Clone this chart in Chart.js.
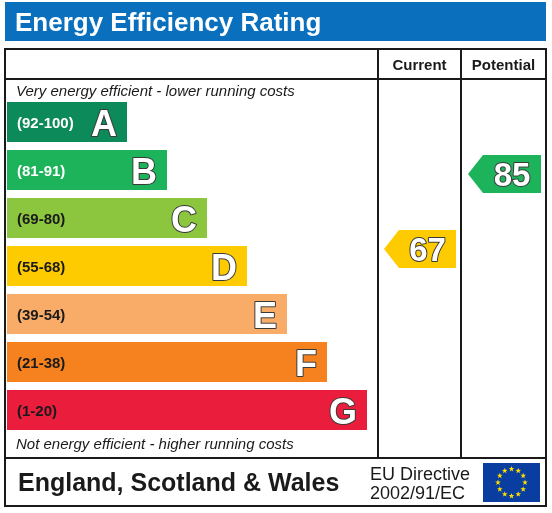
<!DOCTYPE html>
<html>
<head>
<meta charset="utf-8">
<script src="https://cdn.jsdelivr.net/npm/chart.js@4"></script>
<style>
  html, body { margin: 0; padding: 0; background: #fff; }
  canvas { display: block; }
</style>
</head>
<body>
<canvas id="epc" width="552" height="513"></canvas>
<script>
// chart data
const bands = ['A', 'B', 'C', 'D', 'E', 'F', 'G'];
const bandRanges = ['(92-100)', '(81-91)', '(69-80)', '(55-68)', '(39-54)', '(21-38)', '(1-20)'];
const bandLow = [92, 81, 69, 55, 39, 21, 1];
const bandHigh = [100, 91, 80, 68, 54, 38, 20];
const bandLength = [3, 4, 5, 6, 7, 8, 9];
const bandColors = ['#0c8a59', '#1db35b', '#8cc63f', '#fecb00', '#f9ac68', '#f5821f', '#ea1d3c'];
const rangeTextColors = ['#fff', '#fff', '#1a1a1a', '#1a1a1a', '#1a1a1a', '#1a1a1a', '#1a1a1a'];
const currentRating = 67;
const potentialRating = 85;

const FONT = '"Liberation Sans", Arial, sans-serif';

function bandIndex(r) {
    for (let i = 0; i < bands.length; i++) {
        if (r >= bandLow[i] && r <= bandHigh[i]) return i;
    }
    return bands.length - 1;
}

function outlinedText(ctx, text, x, y) {
    ctx.lineJoin = 'round';
    ctx.lineWidth = 2;
    ctx.strokeStyle = '#3a3a3a';
    ctx.strokeText(text, x, y);
    ctx.fillStyle = '#fff';
    ctx.fillText(text, x, y);
}

function drawArrow(chart, rating, left, right) {
    const ctx = chart.ctx;
    const i = bandIndex(rating);
    const bar = chart.getDatasetMeta(0).data[i];
    const top = bar.y - bar.height / 2;
    const frac = (bandHigh[i] - rating) / (bandHigh[i] - bandLow[i]);
    const yc = top + frac * bar.height;
    const h = 38;
    const nose = 15;
    ctx.fillStyle = bandColors[i];
    ctx.beginPath();
    ctx.moveTo(left, yc);
    ctx.lineTo(left + nose, yc - h / 2);
    ctx.lineTo(right, yc - h / 2);
    ctx.lineTo(right, yc + h / 2);
    ctx.lineTo(left + nose, yc + h / 2);
    ctx.closePath();
    ctx.fill();
    ctx.font = 'bold 33px ' + FONT;
    ctx.textAlign = 'center';
    ctx.textBaseline = 'alphabetic';
    outlinedText(ctx, String(rating), (left + nose + right) / 2, yc + 12);
}

function drawStar(ctx, cx, cy, r) {
    ctx.beginPath();
    for (let k = 0; k < 10; k++) {
        const a = -Math.PI / 2 + k * Math.PI / 5;
        const rr = k % 2 === 0 ? r : r * 0.4;
        ctx.lineTo(cx + rr * Math.cos(a), cy + rr * Math.sin(a));
    }
    ctx.closePath();
    ctx.fill();
}

const framePlugin = {
    id: 'frame',
    beforeDraw(chart) {
        const ctx = chart.ctx;
        ctx.save();
        ctx.fillStyle = '#fff';
        ctx.fillRect(0, 0, chart.width, chart.height);

        // title bar
        ctx.fillStyle = '#0a70bd';
        ctx.fillRect(5, 2, 541, 39);
        ctx.fillStyle = '#fff';
        ctx.font = 'bold 26px ' + FONT;
        ctx.textBaseline = 'alphabetic';
        ctx.fillText('Energy Efficiency Rating', 15, 31);

        // table
        ctx.strokeStyle = '#1a1a1a';
        ctx.lineWidth = 2;
        ctx.strokeRect(5, 49, 541, 457);
        ctx.beginPath();
        ctx.moveTo(5, 79); ctx.lineTo(546, 79);
        ctx.moveTo(5, 458); ctx.lineTo(546, 458);
        ctx.moveTo(378, 49); ctx.lineTo(378, 458);
        ctx.moveTo(461, 49); ctx.lineTo(461, 458);
        ctx.stroke();

        ctx.fillStyle = '#1a1a1a';
        ctx.font = 'bold 15px ' + FONT;
        ctx.textAlign = 'center';
        ctx.fillText('Current', 419.5, 69.5);
        ctx.fillText('Potential', 503.5, 69.5);

        ctx.textAlign = 'left';
        ctx.font = 'italic 15px ' + FONT;
        ctx.fillText('Very energy efficient - lower running costs', 16, 96);
        ctx.fillText('Not energy efficient - higher running costs', 16, 449);

        // footer
        ctx.font = 'bold 25px ' + FONT;
        ctx.fillText('England, Scotland & Wales', 18, 491);
        ctx.font = '18px ' + FONT;
        ctx.fillText('EU Directive', 370, 480);
        ctx.fillText('2002/91/EC', 370, 499);

        // EU flag
        ctx.fillStyle = '#0a3da0';
        ctx.fillRect(483, 463, 57, 39);
        ctx.fillStyle = '#ffde00';
        for (let k = 0; k < 12; k++) {
            const a = k * Math.PI / 6;
            drawStar(ctx, 511.5 + 13.5 * Math.cos(a), 482.5 + 13.5 * Math.sin(a), 3);
        }
        ctx.restore();
    },
    afterDatasetsDraw(chart) {
        const ctx = chart.ctx;
        ctx.save();
        const meta = chart.getDatasetMeta(0);
        meta.data.forEach((bar, i) => {
            ctx.textBaseline = 'alphabetic';
            ctx.textAlign = 'left';
            ctx.font = 'bold 15px ' + FONT;
            ctx.fillStyle = rangeTextColors[i];
            ctx.fillText(bandRanges[i], 17, bar.y + 5.5);
            ctx.textAlign = 'right';
            ctx.font = 'bold 36px ' + FONT;
            outlinedText(ctx, bands[i], bar.x - 10, bar.y + 14);
        });
        drawArrow(chart, currentRating, 384, 456);
        drawArrow(chart, potentialRating, 468, 541);
        ctx.restore();
    }
};

new Chart(document.getElementById('epc'), {
    type: 'bar',
    data: {
        labels: bands,
        datasets: [{
            data: bandLength,
            backgroundColor: bandColors,
            borderWidth: 0,
            barPercentage: 40 / 48,
            categoryPercentage: 1
        }]
    },
    options: {
        indexAxis: 'y',
        responsive: false,
        animation: false,
        layout: { padding: { left: 7, right: 145, top: 98, bottom: 79 } },
        scales: {
            x: { display: false, min: 0, max: 10 },
            y: { display: false }
        },
        plugins: {
            legend: { display: false },
            tooltip: { enabled: false }
        }
    },
    plugins: [framePlugin]
});
</script>
</body>
</html>
